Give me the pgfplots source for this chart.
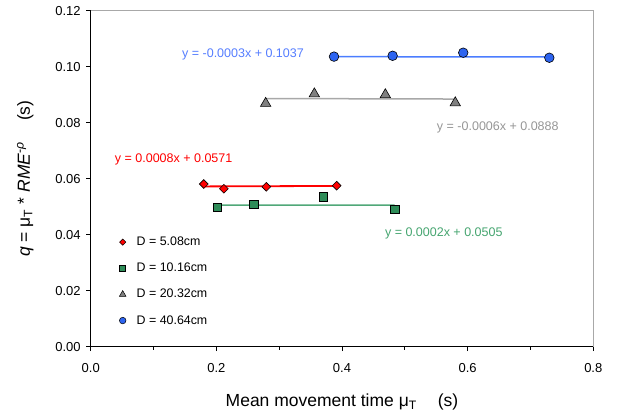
\documentclass[border=0pt]{standalone}
\usepackage{pgfplots}
\pgfplotsset{compat=1.18}
\usepackage{fontspec}
\setmainfont{Liberation Sans}
\definecolor{cred}{RGB}{255,0,0}
\definecolor{cgreenf}{RGB}{46,140,88}
\definecolor{cgreenl}{RGB}{80,168,120}
\definecolor{cgrayf}{RGB}{128,128,128}
\definecolor{cgrayl}{RGB}{168,168,168}
\definecolor{cbluef}{RGB}{45,100,240}
\definecolor{cbluel}{RGB}{75,125,255}
\definecolor{tblue}{RGB}{85,125,255}
\definecolor{tgray}{RGB}{150,150,150}
\definecolor{tgreen}{RGB}{70,165,112}
\begin{document}
\begin{tikzpicture}
\useasboundingbox (-90.7pt,-72.3pt) rectangle (530.3pt,346.7pt);
\begin{axis}[
  at={(0,0)}, anchor=south west,
  scale only axis, width=502.6pt, height=336pt,
  xmin=0, xmax=0.8, ymin=0, ymax=0.12,
  axis lines*=left,
  axis line style={black, line width=1pt},
  xtick={0,0.2,0.4,0.6,0.8},
  minor xtick={0.1,0.3,0.5,0.7},
  ytick={0,0.02,0.04,0.06,0.08,0.10,0.12},
  tick align=outside,
  major tick length=4.5pt, minor tick length=3pt,
  tick style={black, line width=0.8pt},
  /pgf/number format/assume math mode=true,
  xticklabel style={/pgf/number format/.cd, fixed, fixed zerofill, precision=1, /tikz/.cd, yshift=-9pt},
  yticklabel style={/pgf/number format/.cd, fixed, fixed zerofill, precision=2, /tikz/.cd, xshift=-2pt},
  ticklabel style={font=\fontsize{13}{15}\selectfont},
  xlabel={Mean movement time μ\textsubscript{T}\hspace{1.2em}(s)},
  ylabel={\textit{q} = μ\textsubscript{T} * \textit{RME}\textsuperscript{-\textit{ρ}}\hspace{1.2em}(s)},
  label style={font=\fontsize{17.5}{20}\selectfont},
  xlabel style={yshift=-14pt},
  ylabel style={yshift=15pt},
  legend style={draw=none, fill=none, at={(rel axis cs:0.0567,0.333)}, anchor=north west,
    font=\fontsize{12.4}{14}\selectfont, row sep=12pt, inner sep=0pt},
  legend cell align=left,
  legend image code/.code={\draw[#1] plot coordinates {(0pt,0pt)}; \path[draw=none, fill=none] (0pt,0pt) -- (12pt,0pt);},
  clip=false,
]
\draw[cgrayl, line width=0.8pt] (rel axis cs:0,1) -- (rel axis cs:1,1) -- (rel axis cs:1,0);

\addlegendimage{only marks, mark=square*, mark size=2.2pt, mark options={rotate=45, fill=cred, draw=black, line width=0.5pt}}
\addlegendentry{D = 5.08cm}
\addlegendimage{only marks, mark=square*, mark size=3pt, mark options={fill=cgreenf, draw=black, line width=0.5pt}}
\addlegendentry{D = 10.16cm}
\addlegendimage{only marks, mark=triangle*, mark size=3.8pt, mark options={fill=cgrayf, draw=black, line width=0.5pt}}
\addlegendentry{D = 20.32cm}
\addlegendimage{only marks, mark=*, mark size=3.3pt, mark options={fill=cbluef, draw=black, line width=0.5pt}}
\addlegendentry{D = 40.64cm}

% regression lines
\addplot[cred, line width=1.8pt, forget plot] coordinates {(0.180,0.05724) (0.392,0.05741)};
\addplot[cgreenl, line width=1.5pt, forget plot] coordinates {(0.2015,0.05054) (0.4838,0.05060)};
\addplot[cgrayl, line width=1.5pt, forget plot] coordinates {(0.2785,0.08863) (0.5803,0.08845)};
\addplot[cbluel, line width=1.5pt, forget plot] coordinates {(0.3873,0.10358) (0.730,0.10348)};

% data
\addplot[only marks, mark=square*, mark size=3.1pt, mark options={rotate=45, fill=cred, draw=black, line width=0.6pt}, forget plot]
  coordinates {(0.180,0.0581) (0.212,0.0564) (0.2795,0.0571) (0.3915,0.0575)};
\addplot[only marks, mark=square*, mark size=4.2pt, mark options={fill=cgreenf, draw=black, line width=0.6pt}, forget plot]
  coordinates {(0.2015,0.0498) (0.2594,0.0509) (0.370,0.0536) (0.4838,0.0491)};
\addplot[only marks, mark=triangle*, mark size=6pt, mark options={fill=cgrayf, draw=black, line width=0.6pt}, forget plot]
  coordinates {(0.2785,0.0869) (0.356,0.0903) (0.469,0.0900) (0.5803,0.0871)};
\addplot[only marks, mark=*, mark size=4.8pt, mark options={fill=cbluef, draw=black, line width=0.6pt}, forget plot]
  coordinates {(0.3873,0.1036) (0.4806,0.1039) (0.593,0.1050) (0.730,0.1032)};

\node[tblue, font=\fontsize{12.5}{14}\selectfont] at (axis cs:0.2424,0.1044) {y = -0.0003x + 0.1037};
\node[cred, font=\fontsize{12.5}{14}\selectfont] at (axis cs:0.132,0.0670) {y = 0.0008x + 0.0571};
\node[tgray, font=\fontsize{12.5}{14}\selectfont] at (axis cs:0.648,0.0782) {y = -0.0006x + 0.0888};
\node[tgreen, font=\fontsize{12.5}{14}\selectfont] at (axis cs:0.562,0.0404) {y = 0.0002x + 0.0505};
\end{axis}
\end{tikzpicture}
\end{document}
